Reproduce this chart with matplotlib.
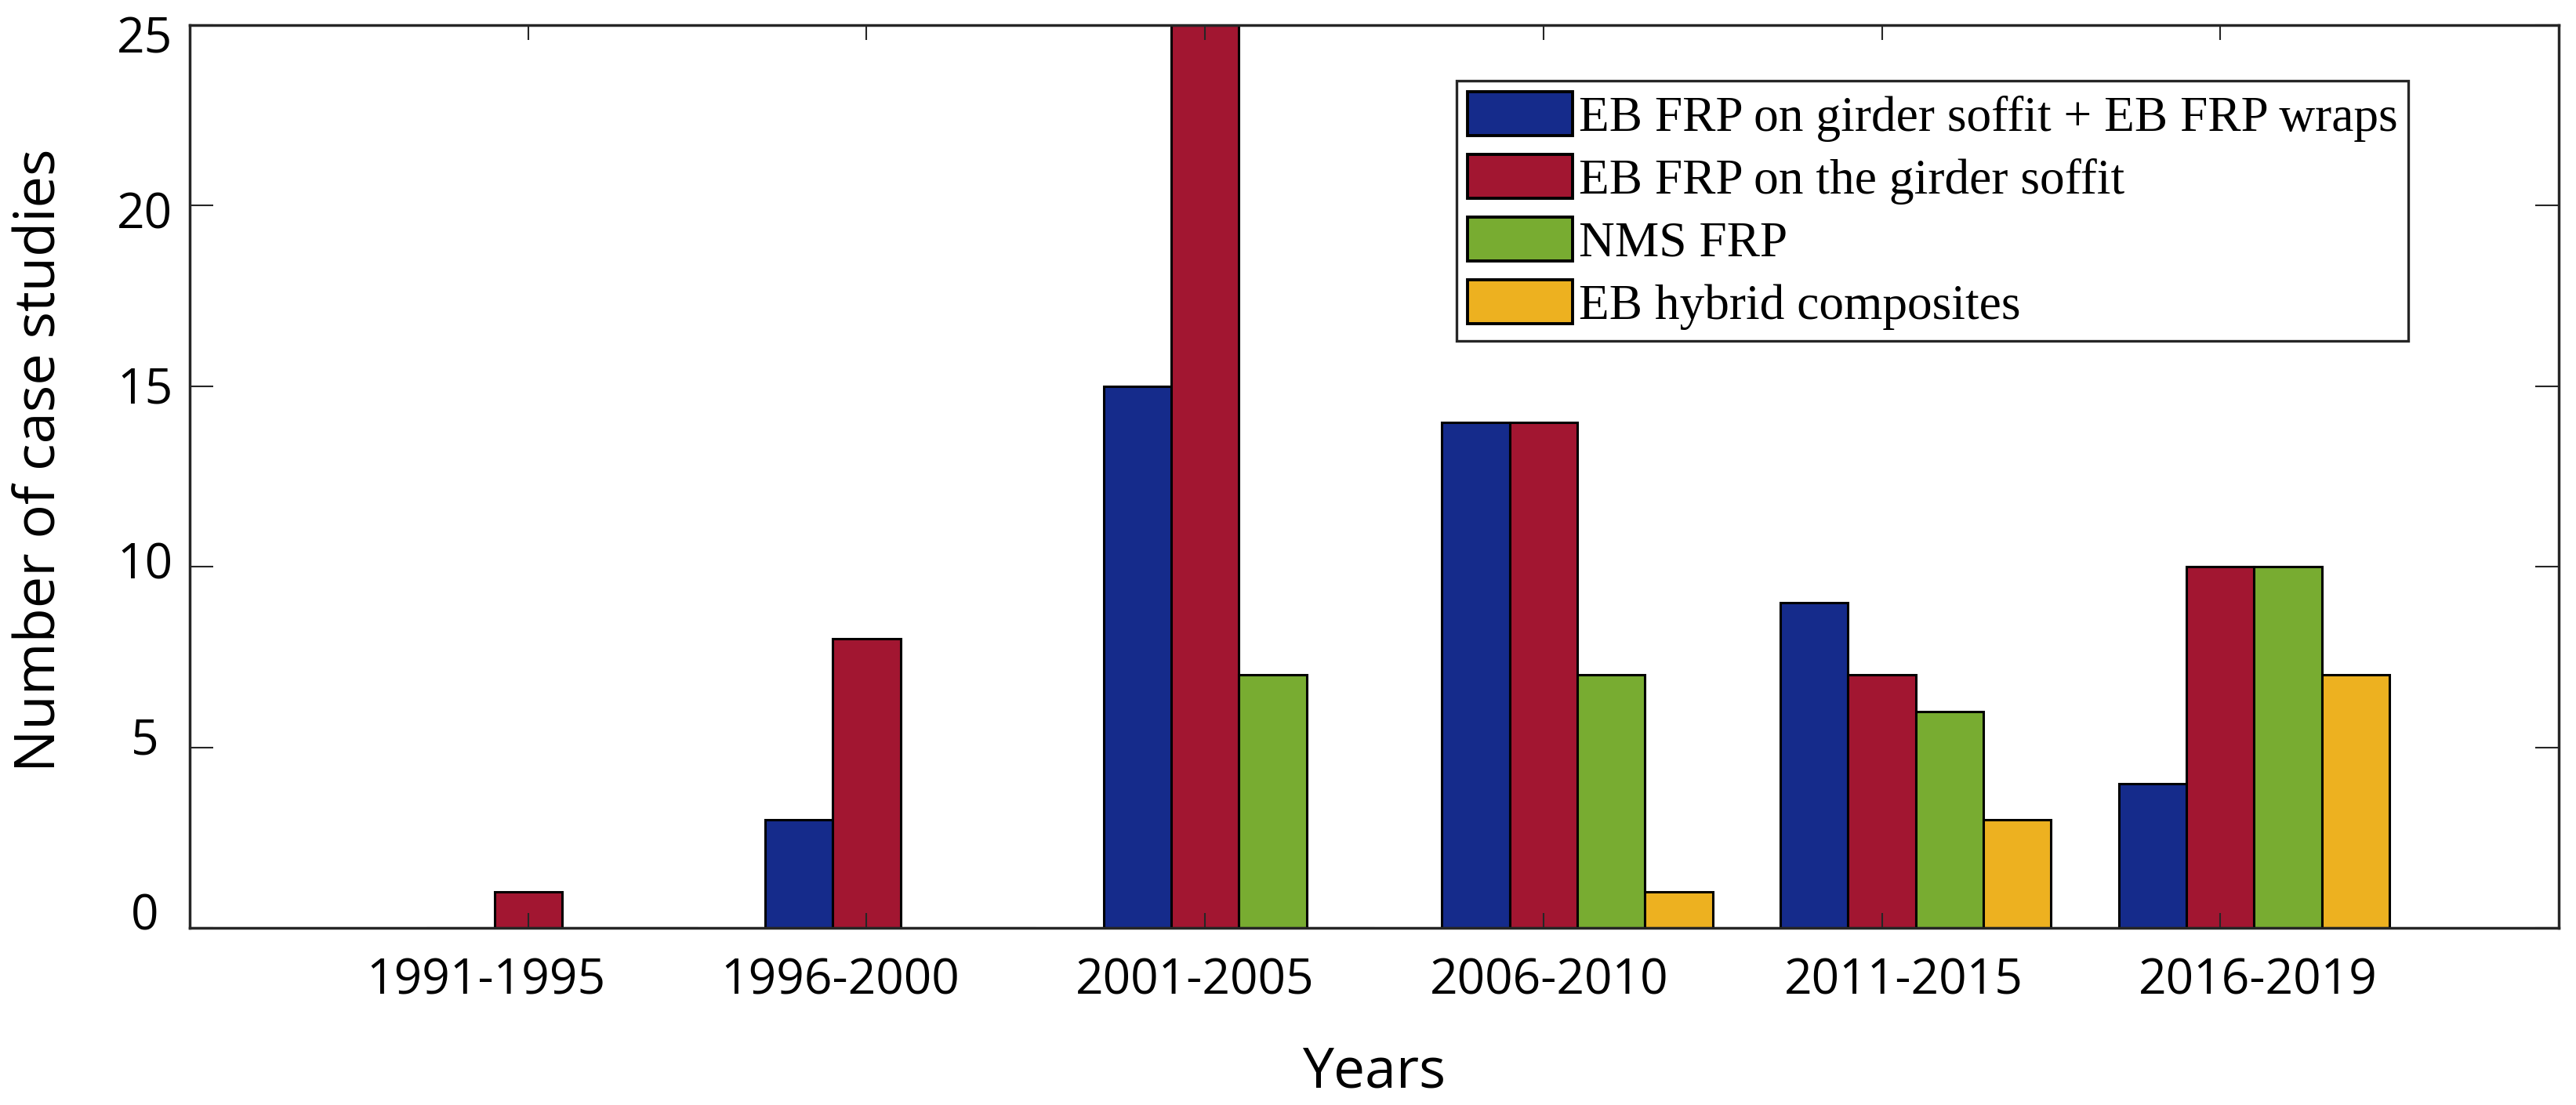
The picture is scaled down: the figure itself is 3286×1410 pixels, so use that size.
import numpy as np
import matplotlib
matplotlib.use('Agg')
import matplotlib.pyplot as plt

plt.rcParams['font.family'] = ['Open Sans', 'DejaVu Sans']

# data
periods = ['1991-1995', '1996-2000', '2001-2005', '2006-2010', '2011-2015', '2016-2019']
series_names = ['EB FRP on girder soffit + EB FRP wraps',
                'EB FRP on the girder soffit',
                'NMS FRP',
                'EB hybrid composites']
eb_wraps = [0, 3, 15, 14, 9, 4]
eb_soffit = [1, 8, 25, 14, 7, 10]
nms_frp = [0, 0, 7, 7, 6, 10]
eb_hybrid = [0, 0, 0, 1, 3, 7]
yticks = [0, 5, 10, 15, 20, 25]

colors = ['#152B8B', '#A21631', '#78AC31', '#EDB120']
offsets = [-0.2, 0.0, 0.2, 0.4]
bar_w = 0.2
dark = '#262626'

W, H = 3286, 1410
fig = plt.figure(figsize=(W / 200, H / 200), dpi=200)

# tick labels sit on their own (slightly wider) grid, like the original
lab = fig.add_axes([168 / W, (H - 1170) / H, 3164 / W, 1119 / H])
lab.set_xlim(0, 7)
lab.set_ylim(0, 25)
lab.patch.set_visible(False)
for s in lab.spines.values():
    s.set_visible(False)
x = np.arange(1, len(periods) + 1)
lab.set_xticks(x)
lab.set_xticklabels(periods)
lab.set_yticks(yticks)
lab.tick_params(length=0, labelsize=22.4)
lab.tick_params(axis='x', pad=18.5)
lab.tick_params(axis='y', pad=-6)
for t in lab.get_yticklabels():
    t.set_horizontalalignment('center')
    t.set_verticalalignment('center')

ax = fig.add_axes([242 / W, (H - 1184) / H, 3022 / W, 1152 / H])
ax.patch.set_visible(False)
for vals, off, c, name in zip([eb_wraps, eb_soffit, nms_frp, eb_hybrid], offsets, colors, series_names):
    ax.bar(x + off, vals, width=bar_w, color=c, edgecolor='black', linewidth=1.1, label=name)

ax.set_xlim(0, 7)
ax.set_ylim(0, 25)
ax.set_xticks(x)
ax.set_yticks(yticks)
ax.set_xticklabels([])
ax.set_yticklabels([])
ax.tick_params(direction='in', top=True, right=True, color=dark, width=0.75)
ax.tick_params(axis='x', length=6.8)
ax.tick_params(axis='y', length=10.8)
for s in ax.spines.values():
    s.set_color(dark)
    s.set_linewidth(1.25)

ax.set_xlabel('Years', fontsize=25.7)
ax.xaxis.set_label_coords(0.5, -0.160)
ax.xaxis.label.set_verticalalignment('center')
ax.set_ylabel('Number of case studies', fontsize=26)
ax.yaxis.set_label_coords(-0.063, 0.518)
ax.yaxis.label.set_verticalalignment('center')

leg = ax.legend(loc='upper left', bbox_to_anchor=(1858 / W, 1 - 103 / H),
                bbox_transform=fig.transFigure, borderaxespad=0,
                prop={'family': 'Liberation Serif', 'size': 22.8},
                handlelength=2.12, handleheight=0.98, handletextpad=0.12,
                labelspacing=0.26, borderpad=0.22, fancybox=False, framealpha=1)
leg.get_frame().set_edgecolor(dark)
leg.get_frame().set_linewidth(1.2)
for p in leg.get_patches():
    p.set_linewidth(1.4)

fig.savefig('out.png', dpi=200)
